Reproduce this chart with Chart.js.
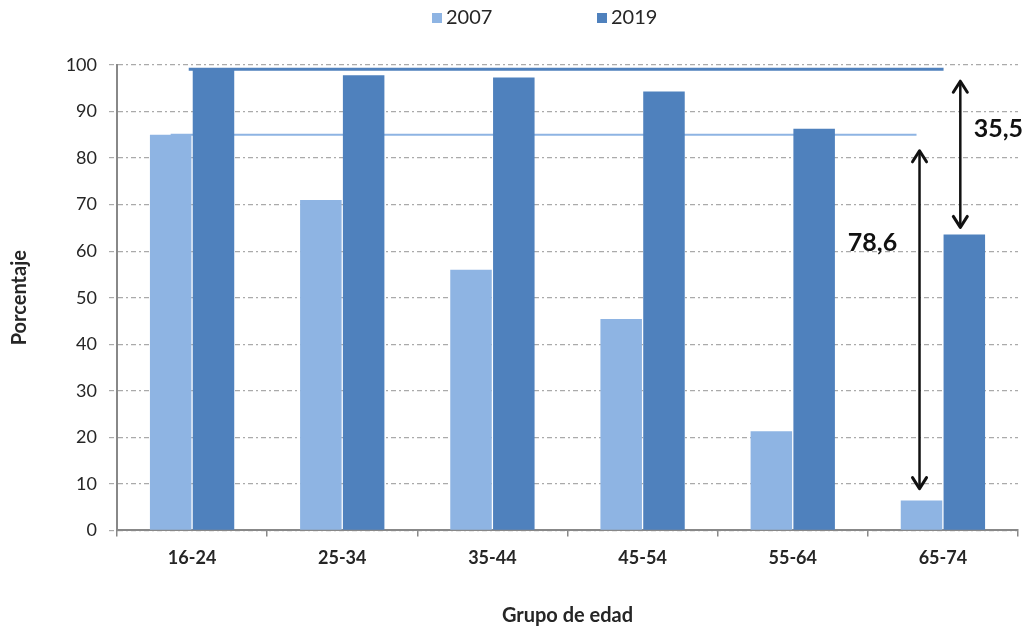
<!DOCTYPE html>
<html><head><meta charset="utf-8">
<script src="https://cdn.jsdelivr.net/npm/chart.js@4"></script>
<style>html,body{margin:0;padding:0;background:#fff}#wrap{width:1027px;height:628px;position:relative}</style>
</head><body><div id="wrap"><canvas id="c"></canvas></div>
<script>
const categories = ['16-24', '25-34', '35-44', '45-54', '55-64', '65-74'];
const seriesLabels = ['2007', '2019'];
const values2007 = [85.0, 71.0, 56.0, 45.4, 21.3, 6.4];
const values2019 = [99.1, 97.8, 97.3, 94.3, 86.3, 63.6];
const yTicks = [0, 10, 20, 30, 40, 50, 60, 70, 80, 90, 100];
const seriesColors = ['#8EB4E3', '#4F81BD'];
const axisTitles = ['Grupo de edad', 'Porcentaje'];

const FONT = 'Lato, "Liberation Sans", sans-serif';
const TEXT = '#262626';
const fmt = v => v.toFixed(1).replace('.', ',');

function arrow(ctx, x, y1, y2) {
  ctx.save();
  ctx.strokeStyle = '#111';
  ctx.lineWidth = 2.5;
  ctx.lineCap = 'round';
  ctx.lineJoin = 'round';
  ctx.beginPath(); ctx.moveTo(x, y1 + 1); ctx.lineTo(x, y2 - 1); ctx.stroke();
  ctx.lineWidth = 3;
  const h = 11, w = 7;
  ctx.beginPath(); ctx.moveTo(x - w, y1 + h); ctx.lineTo(x, y1); ctx.lineTo(x + w, y1 + h); ctx.stroke();
  ctx.beginPath(); ctx.moveTo(x - w, y2 - h); ctx.lineTo(x, y2); ctx.lineTo(x + w, y2 - h); ctx.stroke();
  ctx.restore();
}

const annot = {
  id: 'annot',
  beforeDatasetsDraw(chart) {
    const ctx = chart.ctx, y = chart.scales.y;
    const m0 = chart.getDatasetMeta(0).data, m1 = chart.getDatasetMeta(1).data;
    const last = categories.length - 1;
    ctx.save();
    ctx.strokeStyle = seriesColors[0];
    ctx.lineWidth = 2;
    ctx.beginPath();
    const yl = y.getPixelForValue(values2007[0]);
    ctx.moveTo(m0[0].x, yl); ctx.lineTo(m0[last].x - 5, yl); ctx.stroke();
    ctx.strokeStyle = seriesColors[1];
    ctx.lineWidth = 3;
    const yd = y.getPixelForValue(values2019[0]);
    ctx.beginPath();
    ctx.moveTo(m1[0].x - m1[0].width / 2 - 4, yd); ctx.lineTo(m1[last].x - m1[last].width / 2, yd); ctx.stroke();
    ctx.restore();
  },
  afterDatasetsDraw(chart) {
    const ctx = chart.ctx, y = chart.scales.y;
    const m0 = chart.getDatasetMeta(0).data, m1 = chart.getDatasetMeta(1).data;
    const last = categories.length - 1;
    const gap07 = values2007[0] - values2007[last];
    const gap19 = values2019[0] - values2019[last];
    const xa = m0[last].x - 2;
    arrow(ctx, xa, y.getPixelForValue(values2007[0]) + 16, y.getPixelForValue(values2007[last]) - 12);
    const xb = m1[last].x - 4;
    arrow(ctx, xb, y.getPixelForValue(values2019[0]) + 12, y.getPixelForValue(values2019[last]) - 7);
    ctx.save();
    ctx.fillStyle = '#111';
    ctx.font = 'bold 25px ' + FONT;
    ctx.textAlign = 'center';
    ctx.textBaseline = 'middle';
    ctx.fillText(fmt(gap07), xa - 47, y.getPixelForValue((values2007[0] + values2007[last]) / 2 + 16));
    ctx.fillText(fmt(gap19), xb + 38, y.getPixelForValue((values2019[0] + values2019[last]) / 2 + 5));
    ctx.restore();
  },
  afterDraw(chart) {
    const ctx = chart.ctx;
    const xs = [432, 597];
    ctx.save();
    ctx.font = '20px ' + FONT;
    ctx.textBaseline = 'middle';
    ctx.textAlign = 'left';
    seriesLabels.forEach((lab, i) => {
      ctx.fillStyle = seriesColors[i];
      ctx.fillRect(xs[i], 13, 10, 10);
      ctx.fillStyle = TEXT;
      ctx.fillText(lab, xs[i] + 14, 18);
    });
    ctx.restore();
  }
};

new Chart(document.getElementById('c'), {
  type: 'bar',
  data: {
    labels: categories,
    datasets: [
      { label: seriesLabels[0], data: values2007, backgroundColor: seriesColors[0] },
      { label: seriesLabels[1], data: values2019, backgroundColor: seriesColors[1] }
    ]
  },
  options: {
    responsive: true,
    maintainAspectRatio: false,
    animation: false,
    devicePixelRatio: 1,
    categoryPercentage: 0.57,
    barPercentage: 0.97,
    layout: { padding: { top: 65, right: 9, left: 0, bottom: 0 } },
    plugins: { legend: { display: false }, tooltip: { enabled: false } },
    scales: {
      x: {
        grid: { drawOnChartArea: false, drawTicks: true, tickLength: 6, color: '#888', offset: true, lineWidth: 1.5 },
        border: { display: true, color: '#888', width: 2 },
        ticks: { color: TEXT, font: { family: FONT, size: 18, weight: 'bold' }, padding: 11 },
        title: { display: true, text: axisTitles[0], color: TEXT, font: { family: FONT, size: 20, weight: 'bold' }, padding: { top: 24, bottom: 0 } }
      },
      y: {
        min: 0, max: 100,
        afterBuildTicks(s) { s.ticks = yTicks.map(v => ({ value: v })); },
        afterFit(s) { s.width = 117; },
        grid: { color: '#aaa', lineWidth: 1.2, tickLength: 8, tickBorderDash: [5, 3, 2, 3] },
        border: { display: true, color: '#888', width: 2, dash: [5, 3, 2, 3] },
        ticks: { color: TEXT, font: { family: FONT, size: 18 }, padding: 12 },
        title: { display: true, text: axisTitles[1], color: TEXT, font: { family: FONT, size: 20, weight: 'bold' }, padding: { top: 8, bottom: 0 } }
      }
    }
  },
  plugins: [annot]
});
</script>
</body></html>
